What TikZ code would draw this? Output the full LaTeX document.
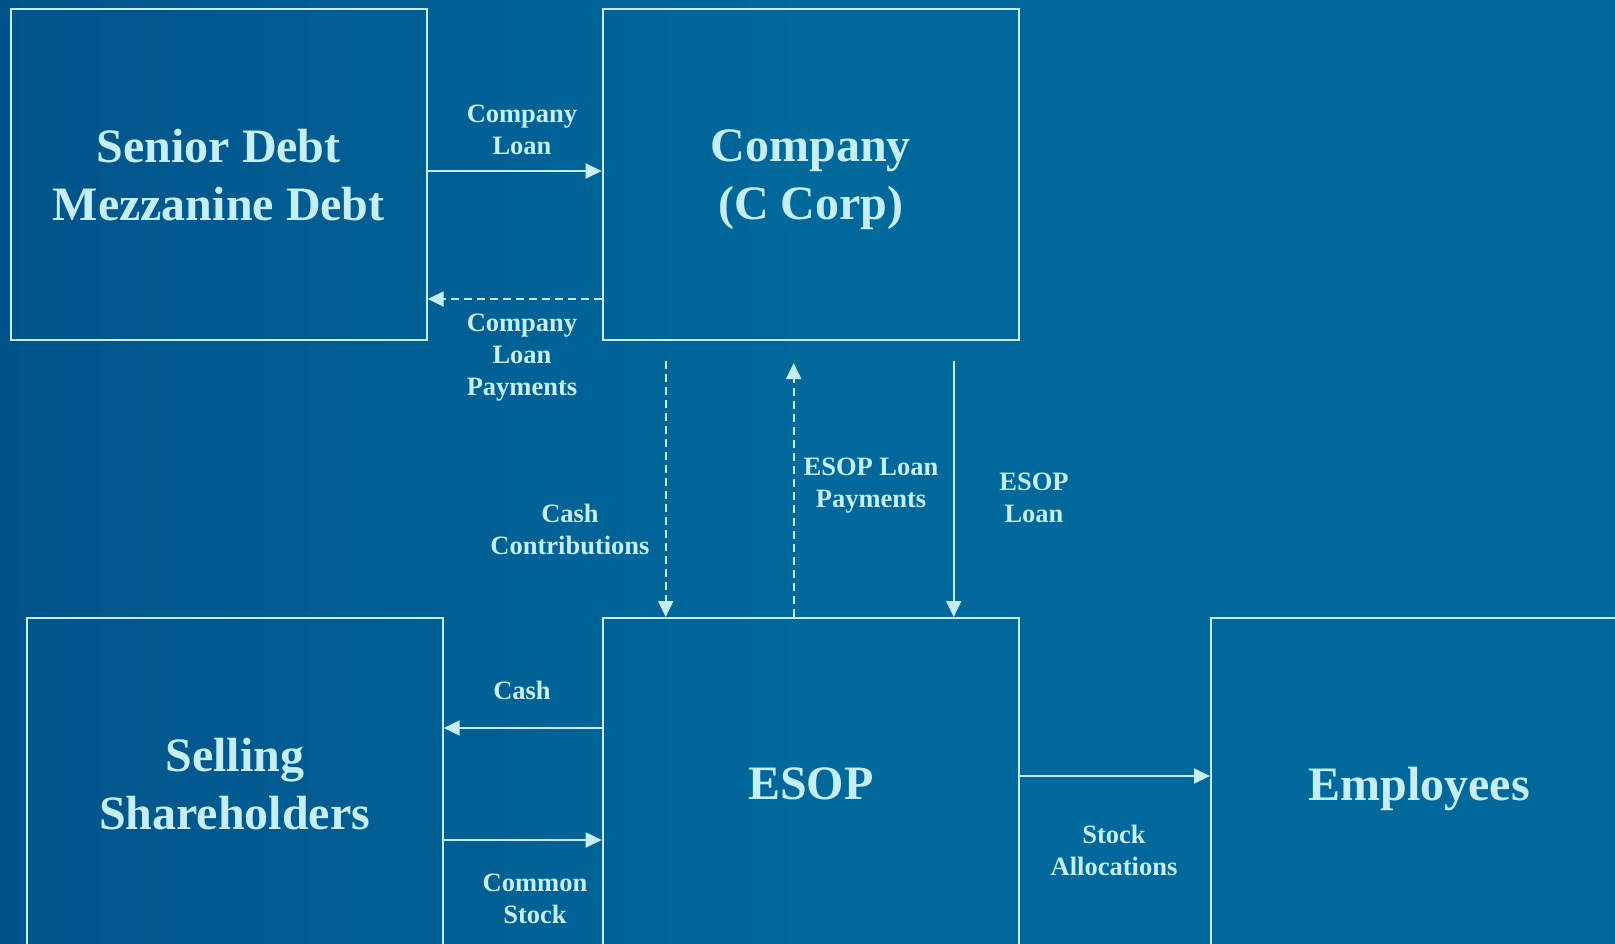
\documentclass[tikz,border=0pt]{standalone}
\usepackage{fontspec}
\setmainfont{Liberation Serif}
\usetikzlibrary{arrows.meta}
\definecolor{bgblue}{RGB}{0,104,155}
\definecolor{bgdark}{RGB}{0,84,138}
\definecolor{ice}{RGB}{198,238,246}

\begin{document}
\begin{tikzpicture}[
    x=1pt,
    y=-1pt,
    party/.style={
        rectangle,
        draw=ice,
        line width=2pt,
        minimum width=416pt,
        minimum height=331pt,
        align=center,
        text=ice,
        text depth=0pt,
        font=\fontsize{48}{58}\selectfont\bfseries
    },
    flow label/.style={
        align=center,
        text=ice,
        inner sep=0pt,
        font=\fontsize{26.5}{32}\selectfont\bfseries
    },
    flow/.style={
        draw=ice,
        line width=2pt,
        -{Triangle[length=16pt,width=15pt]}
    },
    back flow/.style={
        flow,
        dash pattern=on 8pt off 5pt
    }
]

\useasboundingbox (0,0) rectangle (1615,943);
\clip (0,0) rectangle (1615,943);
\shade[left color=bgdark, right color=bgblue, middle color=bgblue]
    (0,0) rectangle (1615,943);

% parties
\node[party] (debt) at (218.7,174.5) {Senior Debt\\Mezzanine Debt};
\node[party] (company) at (810.7,174.5) {Company\\(C Corp)};
\node[party] (sellers) at (234.7,783.5) {Selling\\Shareholders};
\node[party] (esop) at (810.7,783.5) {ESOP};
\node[party] (employees) at (1419,783.5) {Employees};

% lender <-> company
\draw[flow] ([yshift=3.5pt]debt.east) -- ([yshift=3.5pt]company.west);
\draw[back flow] ([yshift=42pt]company.south west) -- ([yshift=42pt]debt.south east);

% company <-> esop
\draw[back flow] ([xshift=64pt,yshift=-20pt]company.south west) -- ([xshift=64pt]esop.north west);
\draw[back flow] ([xshift=192pt]esop.north west) -- ([xshift=192pt,yshift=-22pt]company.south west);
\draw[flow] ([xshift=352pt,yshift=-20pt]company.south west) -- ([xshift=352pt]esop.north west);

% esop <-> sellers, employees
\draw[flow] ([yshift=-111pt]esop.north west) -- ([yshift=-111pt]sellers.north east);
\draw[flow] ([yshift=-223pt]sellers.north east) -- ([yshift=-223pt]esop.north west);
\draw[flow] ([yshift=-159pt]esop.north east) -- ([yshift=-159pt]employees.north west);

% labels
\node[flow label] (loanlbl) at (522,130) {Company\\Loan};
\node[flow label] (paylbl) at (522,358) {Company\\Loan\\Payments};
\node[flow label] (contriblbl) at (570,529) {Cash\\Contributions};
\node[flow label] (esoppaylbl) at (871,486) {ESOP Loan\\Payments};
\node[flow label] (esoploanlbl) at (1034,498) {ESOP\\Loan};
\node[flow label] (cashlbl) at (522,690) {Cash};
\node[flow label] (stocklbl) at (535,899) {Common\\Stock};
\node[flow label] (alloclbl) at (1114,850) {Stock\\Allocations};

\end{tikzpicture}
\end{document}
